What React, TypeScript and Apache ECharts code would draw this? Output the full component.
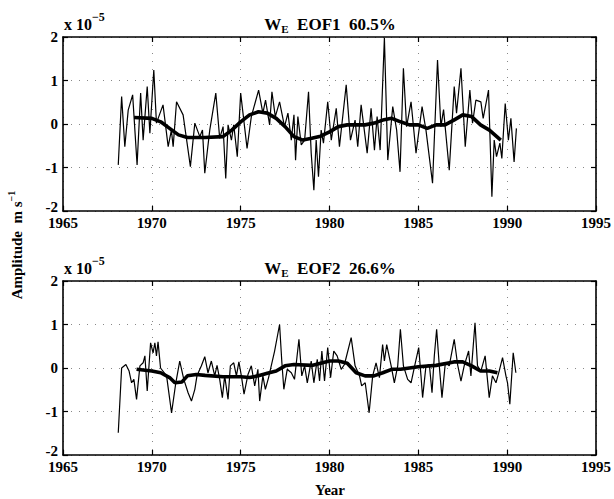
import React, { useEffect, useRef } from 'react';
import * as echarts from 'echarts';

// x-axis (year) ticks and y-axis (amplitude, x 1e-5) ticks
const yearTicks = [1965, 1970, 1975, 1980, 1985, 1990, 1995];
const ampTicks = [-2, -1, 0, 1, 2];

// EOF1 thin line (year, amplitude x 1e-5)
const eof1Thin: [number, number][] = [
  [1968.11, -0.94], [1968.30, 0.63], [1968.48, -0.52], [1968.67, 0.32], [1968.92, 0.67],
  [1969.17, -0.94], [1969.37, 0.71], [1969.51, -0.37], [1969.74, 0.86], [1969.89, -0.21],
  [1970.11, 1.24], [1970.26, 0.02], [1970.63, 0.44], [1970.92, -0.52], [1971.10, -0.14],
  [1971.20, -0.52], [1971.39, 0.51], [1971.76, 0.21], [1972.17, -0.98], [1972.42, 0.02],
  [1972.70, -0.29], [1972.85, -0.14], [1972.98, -1.13], [1973.26, -0.14], [1973.60, 0.71],
  [1973.82, -0.33], [1974.01, -0.06], [1974.16, -1.25], [1974.29, -0.02], [1974.48, -0.37],
  [1974.61, -0.02], [1974.81, -0.75], [1975.00, 0.71], [1975.36, -0.56], [1975.60, 0.17],
  [1976.01, 0.78], [1976.25, 0.25], [1976.40, 0.55], [1976.63, -0.02], [1976.76, 0.74],
  [1976.95, 0.17], [1977.19, 0.51], [1977.47, -0.06], [1977.66, 0.25], [1977.85, -0.37],
  [1978.00, 0.21], [1978.09, -0.83], [1978.22, 0.17], [1978.41, -0.48], [1978.60, -0.37],
  [1978.82, 0.74], [1978.97, -0.67], [1979.12, -1.52], [1979.25, -0.37], [1979.38, -1.21],
  [1979.53, -0.14], [1979.66, -0.44], [1979.90, 0.51], [1980.10, -0.37], [1980.38, 0.36],
  [1980.56, -0.52], [1980.94, 0.90], [1981.18, -0.37], [1981.44, 0.09], [1981.59, -0.52],
  [1981.78, 0.44], [1982.12, -0.67], [1982.34, 0.36], [1982.53, -0.60], [1982.68, 0.17],
  [1982.85, -0.60], [1983.09, 1.98], [1983.28, -0.83], [1983.56, 0.40], [1983.78, -0.14],
  [1983.97, -1.10], [1984.16, 1.28], [1984.34, -0.06], [1984.59, 0.51], [1984.87, -0.67],
  [1985.21, 0.40], [1985.43, -0.14], [1985.80, -1.36], [1986.08, 1.47], [1986.27, -0.06],
  [1986.42, 0.33], [1986.74, -1.06], [1987.02, 0.86], [1987.15, 0.25], [1987.40, 1.28],
  [1987.64, -0.52], [1987.90, 0.78], [1988.05, 0.02], [1988.24, 0.55], [1988.52, 0.51],
  [1988.65, 0.13], [1988.95, 0.78], [1989.14, -1.67], [1989.27, -0.37], [1989.40, -0.75],
  [1989.59, -0.44], [1989.70, -0.79], [1989.89, 0.47], [1990.07, -0.37], [1990.21, 0.13],
  [1990.39, -0.87], [1990.52, -0.10],
];

// EOF1 smoothed (thick) line
const eof1Smooth: [number, number][] = [
  [1969.0, 0.15], [1970.0, 0.13], [1970.5, 0.05], [1971.0, -0.10], [1971.5, -0.25],
  [1972.0, -0.31], [1973.0, -0.31], [1974.0, -0.29], [1974.5, -0.14], [1975.0, 0.05],
  [1975.5, 0.21], [1976.0, 0.28], [1976.5, 0.25], [1977.0, 0.13], [1977.5, -0.06],
  [1978.0, -0.29], [1978.5, -0.37], [1979.0, -0.33], [1979.5, -0.28], [1980.0, -0.18],
  [1980.5, -0.06], [1981.0, -0.02], [1981.5, -0.02], [1982.0, -0.02], [1982.5, 0.02],
  [1983.0, 0.09], [1983.5, 0.13], [1984.0, 0.05], [1984.5, -0.02], [1985.0, -0.02],
  [1985.5, -0.10], [1986.0, -0.02], [1986.5, -0.02], [1987.0, 0.09], [1987.5, 0.21],
  [1988.0, 0.17], [1988.5, -0.02], [1989.0, -0.14], [1989.64, -0.37],
];

// EOF2 thin line
const eof2Thin: [number, number][] = [
  [1968.11, -1.49], [1968.30, 0.0], [1968.54, 0.08], [1968.72, -0.07], [1968.86, -0.34],
  [1968.99, -0.26], [1969.14, -0.72], [1969.33, 0.05], [1969.51, 0.12], [1969.61, 0.28],
  [1969.74, -0.53], [1969.93, 0.58], [1970.07, 0.35], [1970.17, 0.58], [1970.26, 0.28],
  [1970.35, 0.60], [1970.49, 0.0], [1970.83, -0.18], [1971.11, -1.03], [1971.35, -0.34],
  [1971.57, 0.16], [1971.80, -0.26], [1972.04, -0.57], [1972.23, -0.76], [1972.42, -0.49],
  [1972.54, -0.18], [1972.79, 0.05], [1972.98, 0.26], [1973.16, -0.11], [1973.35, 0.16],
  [1973.54, -0.18], [1973.67, 0.06], [1973.82, -0.26], [1973.97, -0.68], [1974.10, -0.18],
  [1974.29, -0.72], [1974.42, 0.05], [1974.61, 0.12], [1974.76, -0.18], [1974.90, 0.14],
  [1975.04, -0.18], [1975.19, -0.60], [1975.41, -0.15], [1975.60, 0.05], [1975.79, -0.41],
  [1975.97, -0.03], [1976.07, -0.76], [1976.25, -0.18], [1976.39, -0.49], [1976.57, -0.22],
  [1976.91, 0.39], [1977.19, 1.0], [1977.32, 0.12], [1977.43, -0.49], [1977.62, -0.03],
  [1977.85, -0.11], [1978.03, -0.26], [1978.28, 0.66], [1978.44, -0.18], [1978.60, 0.05],
  [1978.75, -0.34], [1978.97, 0.16], [1979.12, -0.34], [1979.31, 0.20], [1979.44, -0.30],
  [1979.57, 0.39], [1979.72, -0.30], [1979.90, 0.47], [1980.06, -0.22], [1980.24, 0.39],
  [1980.43, 0.28], [1980.66, -0.03], [1980.84, 0.08], [1981.22, 0.70], [1981.44, 0.05],
  [1981.69, -0.18], [1981.81, -0.41], [1982.01, -0.34], [1982.23, -1.03], [1982.43, -0.18],
  [1982.62, 0.12], [1982.81, -0.22], [1982.99, 0.54], [1983.09, 0.16], [1983.22, 0.54],
  [1983.47, 0.05], [1983.65, -0.34], [1983.84, 0.05], [1983.99, 0.89], [1984.16, 0.05],
  [1984.40, -0.26], [1984.59, -0.34], [1984.83, 0.12], [1985.02, 0.47], [1985.15, -0.18],
  [1985.24, -0.68], [1985.43, 0.05], [1985.62, 0.08], [1985.77, -0.57], [1985.90, 0.28],
  [1986.03, 0.89], [1986.18, 0.05], [1986.33, -0.68], [1986.52, 0.12], [1986.74, 0.05],
  [1987.02, 0.66], [1987.21, 0.08], [1987.40, -0.30], [1987.58, 0.05], [1987.83, 0.39],
  [1987.96, -0.18], [1988.19, 1.04], [1988.33, 0.05], [1988.52, -0.07], [1988.76, 0.28],
  [1988.99, -0.68], [1989.17, -0.18], [1989.37, -0.34], [1989.55, -0.07], [1989.74, 0.24],
  [1989.93, -0.18], [1990.02, -0.34], [1990.15, -0.83], [1990.34, 0.35], [1990.49, -0.11],
];

// EOF2 smoothed (thick) line
const eof2Smooth: [number, number][] = [
  [1969.14, -0.03], [1970.0, -0.07], [1970.5, -0.11], [1971.0, -0.22], [1971.3, -0.34],
  [1971.7, -0.32], [1972.0, -0.18], [1972.5, -0.15], [1973.0, -0.17], [1974.0, -0.20],
  [1975.0, -0.20], [1975.5, -0.22], [1976.0, -0.18], [1976.5, -0.12], [1977.0, -0.07],
  [1977.5, 0.05], [1978.0, 0.08], [1979.0, 0.06], [1980.0, 0.16], [1980.5, 0.16],
  [1981.0, 0.11], [1981.5, -0.11], [1982.0, -0.18], [1982.5, -0.18], [1983.0, -0.11],
  [1983.5, -0.03], [1984.0, -0.03], [1985.0, 0.03], [1986.0, 0.06], [1987.0, 0.14],
  [1987.5, 0.14], [1988.0, 0.05], [1988.5, -0.07], [1989.0, -0.07], [1989.45, -0.11],
];

const titles = ['EOF1  60.5%', 'EOF2  26.6%'];

const FONT = 'Liberation Serif';

export default function App() {
  const ref = useRef<HTMLDivElement>(null);

  useEffect(() => {
    if (!ref.current) return;
    const chart = echarts.init(ref.current, undefined, { renderer: 'svg' });

    const tops = [37, 281];
    const height = 174;
    const left = 63;
    const right = 614 - 597;

    const labelStyle = {
      fontFamily: FONT,
      fontSize: 15,
      fontWeight: 'bold' as const,
      color: '#000',
    };

    const xAxes: any[] = [];
    const yAxes: any[] = [];
    [0, 1].forEach((g) => {
      const xBase = {
        gridIndex: g,
        type: 'value',
        min: yearTicks[0],
        max: yearTicks[yearTicks.length - 1],
        interval: 5,
        axisLine: { show: true, onZero: false, lineStyle: { color: '#000', width: 1.6 } },
        axisTick: { show: true, inside: true, length: 5, lineStyle: { color: '#000', width: 1.2 } },
      };
      xAxes.push({
        ...xBase,
        position: 'bottom',
        axisLabel: { ...labelStyle, margin: 4, formatter: (v: number) => String(v) },
        splitLine: { show: true, lineStyle: { color: '#888', type: [1, 7], width: 1 } },
      });
      xAxes.push({
        ...xBase,
        position: 'top',
        axisLabel: { show: false },
        splitLine: { show: false },
      });
      const yBase = {
        gridIndex: g,
        type: 'value',
        min: ampTicks[0],
        max: ampTicks[ampTicks.length - 1],
        interval: 1,
        axisLine: { show: true, onZero: false, lineStyle: { color: '#000', width: 1.6 } },
        axisTick: { show: true, inside: true, length: 5, lineStyle: { color: '#000', width: 1.2 } },
      };
      yAxes.push({
        ...yBase,
        position: 'left',
        axisLabel: {
          ...labelStyle,
          margin: 5,
          formatter: (v: number) => (v === ampTicks[0] ? `{lo|${v}}` : String(v)),
          rich: {
            lo: { ...labelStyle, padding: [0, 0, 9, 0] },
          },
        },
        splitLine: { show: true, lineStyle: { color: '#888', type: [1, 7], width: 1 } },
      });
      yAxes.push({
        ...yBase,
        position: 'right',
        axisLabel: { show: false },
        splitLine: { show: false },
      });
    });

    const thinStyle = { color: '#000', width: 1.2 };
    const thickStyle = { color: '#000', width: 3.6 };

    const series: any[] = [
      { type: 'line', xAxisIndex: 0, yAxisIndex: 0, data: eof1Thin, showSymbol: false, lineStyle: thinStyle },
      { type: 'line', xAxisIndex: 0, yAxisIndex: 0, data: eof1Smooth, showSymbol: false, lineStyle: thickStyle },
      { type: 'line', xAxisIndex: 2, yAxisIndex: 2, data: eof2Thin, showSymbol: false, lineStyle: thinStyle },
      { type: 'line', xAxisIndex: 2, yAxisIndex: 2, data: eof2Smooth, showSymbol: false, lineStyle: thickStyle },
    ];

    const richTitle = {
      a: { fontFamily: FONT, fontSize: 17, fontWeight: 'bold', fill: '#000', lineHeight: 20 },
      s: { fontFamily: FONT, fontSize: 11, fontWeight: 'bold', fill: '#000', lineHeight: 11, verticalAlign: 'bottom' },
    };
    const richExp = {
      a: { fontFamily: FONT, fontSize: 16, fontWeight: 'bold', fill: '#000', lineHeight: 26 },
      p: { fontFamily: FONT, fontSize: 12, fontWeight: 'bold', fill: '#000', lineHeight: 8, verticalAlign: 'top' },
    };

    const graphics: any[] = [];
    [0, 1].forEach((g) => {
      const top = tops[g];
      graphics.push({
        type: 'text',
        x: 330,
        y: top - 13,
        style: {
          text: `{a|W}{s|E}{a|  ${titles[g]}}`,
          rich: richTitle,
          align: 'center',
          verticalAlign: 'middle',
        },
      });
      graphics.push({
        type: 'text',
        x: 64,
        y: top - 13,
        style: {
          text: '{a|x 10}{p|−5}',
          rich: richExp,
          align: 'left',
          verticalAlign: 'middle',
        },
      });
    });
    graphics.push({
      type: 'text',
      x: 330,
      y: 490,
      style: {
        text: 'Year',
        fontFamily: FONT,
        fontSize: 15,
        fontWeight: 'bold',
        fill: '#000',
        align: 'center',
        verticalAlign: 'middle',
      },
    });
    graphics.push({
      type: 'text',
      x: 17,
      y: 245,
      rotation: Math.PI / 2,
      style: {
        text: '{a|Amplitude  m s}{p|−1}',
        rich: {
          a: { fontFamily: FONT, fontSize: 15, fontWeight: 'bold', fill: '#000', lineHeight: 22 },
          p: { fontFamily: FONT, fontSize: 10, fontWeight: 'bold', fill: '#000', lineHeight: 8, verticalAlign: 'top' },
        },
        align: 'center',
        verticalAlign: 'middle',
      },
    });

    chart.setOption({
      animation: false,
      backgroundColor: '#fff',
      grid: tops.map((t) => ({ left, right, top: t, height, containLabel: false })),
      xAxis: xAxes,
      yAxis: yAxes,
      series,
      graphic: graphics,
    });

    return () => chart.dispose();
  }, []);

  return (
    <div
      ref={ref}
      style={{ position: 'fixed', left: 0, top: 0, width: 614, height: 499, background: '#fff' }}
    />
  );
}
